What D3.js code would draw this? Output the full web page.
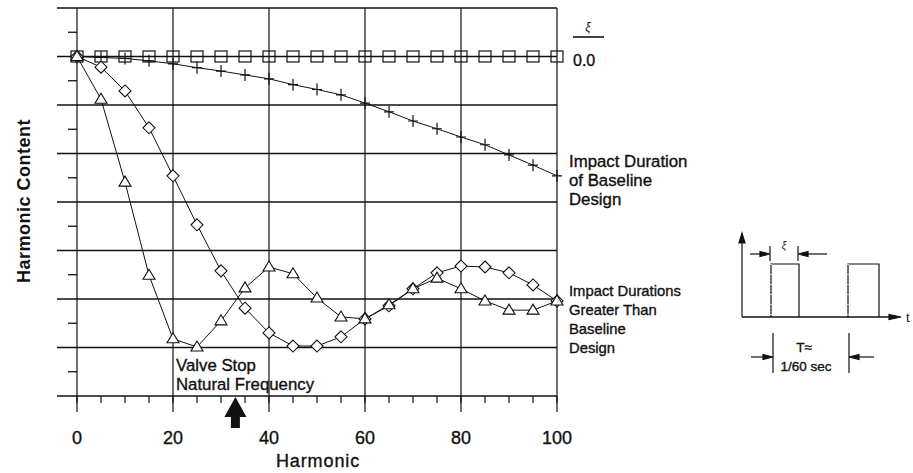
<!DOCTYPE html>
<html>
<head>
<meta charset="utf-8">
<script src="https://cdn.jsdelivr.net/npm/d3@7"></script>
<style>
  body { margin: 0; background: #fff; }
  svg { font-family: "Liberation Sans", Arial, sans-serif; }
  .heavy { stroke: #111; stroke-width: 0.35px; }
</style>
</head>
<body>
<script>
// harmonic number and normalised content (in grid units)
var harmonics = [0, 5, 10, 15, 20, 25, 30, 35, 40, 45, 50, 55, 60, 65, 70, 75, 80, 85, 90, 95, 100];
var zeroDuration = [7, 7, 7, 7, 7, 7, 7, 7, 7, 7, 7, 7, 7, 7, 7, 7, 7, 7, 7, 7, 7];
var baseline = [7.0, 6.98, 6.96, 6.91, 6.85, 6.77, 6.70, 6.62, 6.54, 6.42, 6.32, 6.21, 6.04, 5.86, 5.67, 5.51, 5.34, 5.18, 4.97, 4.76, 4.54];
var greaterA = [7.0, 6.78, 6.29, 5.53, 4.54, 3.53, 2.58, 1.81, 1.30, 1.03, 1.03, 1.22, 1.59, 1.86, 2.21, 2.54, 2.68, 2.66, 2.54, 2.29, 1.96];
var greaterB = [7.0, 6.12, 4.41, 2.49, 1.18, 1.01, 1.55, 2.23, 2.66, 2.52, 2.02, 1.63, 1.59, 1.88, 2.21, 2.43, 2.21, 1.96, 1.77, 1.77, 1.96];
var xTicks = [0, 20, 40, 60, 80, 100];
var valveStop = 33;

var svg = d3.select("body").append("svg").attr("width", 913).attr("height", 473);

var x = d3.scaleLinear().domain([0, 100]).range([77, 557]);
var y = d3.scaleLinear().domain([0, 8]).range([396, 8]);

var ink = "#111";

// horizontal grid lines (extend left past the axis)
svg.append("g").selectAll("line")
    .data(d3.range(0, 9))
    .enter().append("line")
    .attr("x1", 57).attr("x2", x(100))
    .attr("y1", function(d) { return y(d); })
    .attr("y2", function(d) { return y(d); })
    .attr("stroke", ink).attr("stroke-width", 1.3);

// minor ticks on the left
svg.append("g").selectAll("line")
    .data(d3.range(0.5, 8, 1))
    .enter().append("line")
    .attr("x1", 68).attr("x2", x(0))
    .attr("y1", function(d) { return y(d); })
    .attr("y2", function(d) { return y(d); })
    .attr("stroke", ink).attr("stroke-width", 1.3);

// vertical grid lines at labelled harmonics
svg.append("g").selectAll("line")
    .data(xTicks)
    .enter().append("line")
    .attr("x1", function(d) { return x(d); })
    .attr("x2", function(d) { return x(d); })
    .attr("y1", y(8)).attr("y2", 412)
    .attr("stroke", ink).attr("stroke-width", 1.2);

// minor x ticks
svg.append("g").selectAll("line")
    .data(harmonics)
    .enter().append("line")
    .attr("x1", function(d) { return x(d); })
    .attr("x2", function(d) { return x(d); })
    .attr("y1", y(0)).attr("y2", 403)
    .attr("stroke", ink).attr("stroke-width", 1.2);

// x tick labels
svg.append("g").selectAll("text")
    .data(xTicks)
    .enter().append("text")
    .attr("class", "heavy")
    .attr("x", function(d) { return x(d); })
    .attr("y", 444)
    .attr("text-anchor", "middle")
    .attr("font-size", 18)
    .attr("fill", ink)
    .text(function(d) { return d; });

svg.append("text")
    .attr("x", 318).attr("y", 467)
    .attr("text-anchor", "middle")
    .attr("font-size", 18)
    .attr("letter-spacing", 0.9)
    .attr("fill", ink)
    .attr("class", "heavy")
    .text("Harmonic");

svg.append("text")
    .attr("transform", "translate(30,201) rotate(-90)")
    .attr("text-anchor", "middle")
    .attr("font-size", 18)
    .attr("font-weight", "bold")
    .attr("letter-spacing", 0.5)
    .attr("fill", ink)
    .text("Harmonic Content");

// series lines
var line = function(vals) {
  return d3.line()
    .x(function(d, i) { return x(harmonics[i]); })
    .y(function(d) { return y(d); })(vals);
};

[zeroDuration, baseline, greaterA, greaterB].forEach(function(s) {
  svg.append("path")
      .attr("d", line(s))
      .attr("fill", "none")
      .attr("stroke", ink)
      .attr("stroke-width", 1);
});

// markers
var pts = function(vals) {
  return vals.map(function(v, i) { return [x(harmonics[i]), y(v)]; });
};

svg.append("g").selectAll("rect")
    .data(pts(zeroDuration))
    .enter().append("rect")
    .attr("x", function(d) { return d[0] - 6; })
    .attr("y", function(d) { return d[1] - 5.5; })
    .attr("width", 12).attr("height", 11)
    .attr("fill", "none").attr("stroke", ink).attr("stroke-width", 1.2);

svg.append("g").selectAll("path")
    .data(pts(baseline))
    .enter().append("path")
    .attr("d", function(d) { return "M" + (d[0] - 5) + "," + d[1] + "h10M" + d[0] + "," + (d[1] - 6) + "v12"; })
    .attr("stroke", ink).attr("stroke-width", 1.2);

svg.append("g").selectAll("path")
    .data(pts(greaterA))
    .enter().append("path")
    .attr("d", function(d) { return "M" + d[0] + "," + (d[1] - 6) + "l6,6l-6,6l-6,-6z"; })
    .attr("fill", "#fff").attr("stroke", ink).attr("stroke-width", 1.1);

svg.append("g").selectAll("path")
    .data(pts(greaterB))
    .enter().append("path")
    .attr("d", function(d) { return "M" + d[0] + "," + (d[1] - 6) + "l6,10h-12z"; })
    .attr("fill", "#fff").attr("stroke", ink).attr("stroke-width", 1.1);

// legend / annotations
svg.append("text").attr("x", 588).attr("y", 31).attr("text-anchor", "middle")
    .attr("font-size", 12).attr("font-style", "italic").attr("fill", ink).text("ξ");
svg.append("line").attr("x1", 573).attr("x2", 604).attr("y1", 37).attr("y2", 37)
    .attr("stroke", ink).attr("stroke-width", 1.6);
svg.append("text").attr("x", 573).attr("y", 66).attr("class", "heavy")
    .attr("font-size", 16).attr("fill", ink).text("0.0");

var block = function(lines, x0, y0, dy, size) {
  var t = svg.append("text").attr("font-size", size).attr("fill", ink).attr("class", "heavy");
  lines.forEach(function(s, i) {
    t.append("tspan").attr("x", x0).attr("y", y0 + i * dy).text(s);
  });
};
block(["Impact Duration", "of Baseline", "Design"], 569, 167, 19, 16.8);
block(["Impact Durations", "Greater Than", "Baseline", "Design"], 569, 295.5, 19, 14.8);
block(["Valve Stop", "Natural Frequency"], 176, 371, 18.5, 16.8);

// arrow marking the valve stop natural frequency
var ax = x(valveStop);
svg.append("path")
    .attr("d", "M" + ax + ",397 l11,20 h-6.5 v11 h-9 v-11 h-6.5 z")
    .attr("fill", ink);

// inset pulse sketch
var inset = svg.append("g").attr("stroke", ink).attr("fill", "none").attr("stroke-width", 1.2);
inset.append("line").attr("x1", 742).attr("x2", 742).attr("y1", 240).attr("y2", 317);
inset.append("path").attr("d", "M742,233 l-3,10 h6 z").attr("fill", ink);
inset.append("line").attr("x1", 742).attr("x2", 898).attr("y1", 317).attr("y2", 317).attr("stroke-width", 1.5);
inset.append("path").attr("d", "M901,317 l-12,-2.5 v5 z").attr("fill", ink);
inset.append("path").attr("d", "M771,317 V264 H799 V317");
inset.append("path").attr("d", "M848,317 V264 H879 V317");
inset.selectAll(".dash").data([771, 848]).enter().append("line")
    .attr("x1", function(d) { return d; }).attr("x2", function(d) { return d; })
    .attr("y1", 264).attr("y2", 317)
    .attr("stroke", "#fff").attr("stroke-width", 1.4).attr("stroke-dasharray", "1 9");

// xi dimension
inset.append("line").attr("x1", 770).attr("x2", 770).attr("y1", 246).attr("y2", 261);
inset.append("line").attr("x1", 798).attr("x2", 798).attr("y1", 246).attr("y2", 261);
inset.append("line").attr("x1", 750).attr("x2", 766).attr("y1", 254).attr("y2", 254);
inset.append("path").attr("d", "M770,254 l-10,-2.5 v5 z").attr("fill", ink);
inset.append("line").attr("x1", 802).attr("x2", 827).attr("y1", 254).attr("y2", 254);
inset.append("path").attr("d", "M798,254 l10,-2.5 v5 z").attr("fill", ink);
svg.append("text").attr("x", 784).attr("y", 249).attr("text-anchor", "middle")
    .attr("font-size", 10).attr("font-style", "italic").attr("fill", ink).text("ξ");

// period dimension
inset.append("line").attr("x1", 773).attr("x2", 773).attr("y1", 333).attr("y2", 373);
inset.append("line").attr("x1", 849).attr("x2", 849).attr("y1", 333).attr("y2", 373);
inset.append("line").attr("x1", 751).attr("x2", 769).attr("y1", 357).attr("y2", 357);
inset.append("path").attr("d", "M773,357 l-10,-2.5 v5 z").attr("fill", ink);
inset.append("line").attr("x1", 853).attr("x2", 874).attr("y1", 357).attr("y2", 357);
inset.append("path").attr("d", "M849,357 l10,-2.5 v5 z").attr("fill", ink);

svg.append("text").attr("x", 804).attr("y", 352).attr("text-anchor", "middle").attr("class", "heavy")
    .attr("font-size", 13.5).attr("fill", ink).text("T≈");
svg.append("text").attr("x", 806).attr("y", 371).attr("text-anchor", "middle").attr("class", "heavy")
    .attr("font-size", 13.5).attr("fill", ink).text("1/60 sec");
svg.append("text").attr("x", 906).attr("y", 322)
    .attr("font-size", 13).attr("fill", ink).text("t");
</script>
</body>
</html>
